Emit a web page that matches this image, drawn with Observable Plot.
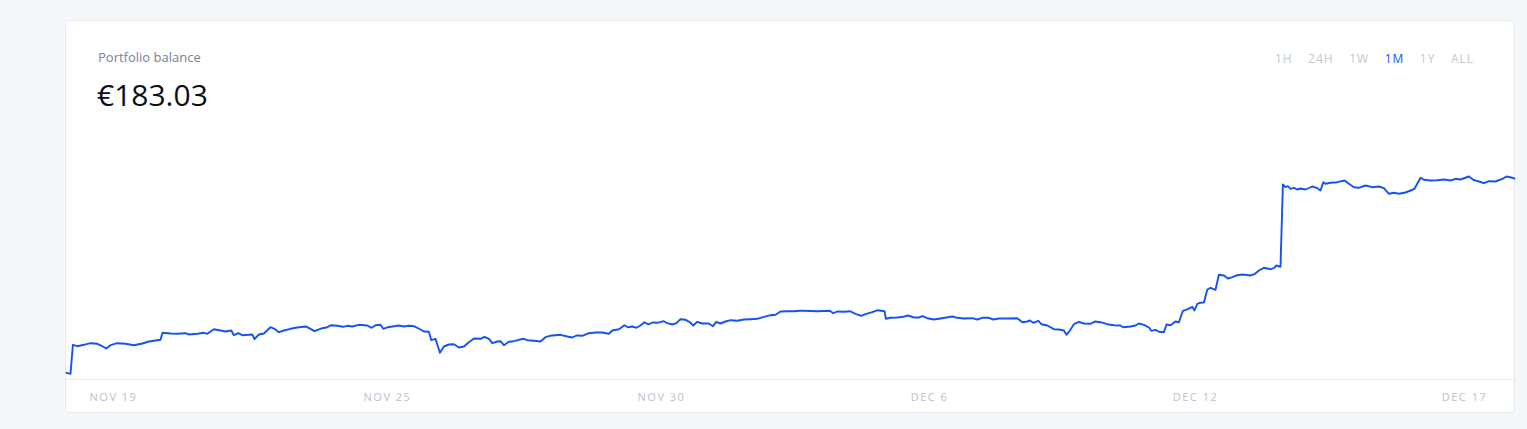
<!DOCTYPE html>
<html>
<head>
<meta charset="utf-8">
<script src="https://cdn.jsdelivr.net/npm/d3@7"></script>
<script src="https://cdn.jsdelivr.net/npm/@observablehq/plot@0.6"></script>
<style>
  html, body { margin: 0; padding: 0; width: 1527px; height: 429px; overflow: hidden; background: #f5f8fb; font-family: "Open Sans", sans-serif; }
  #card { position: absolute; left: 65px; top: 20px; width: 1450px; height: 393px; box-sizing: border-box; background: #fff; border: 1px solid #e7ebef; border-radius: 4px; }
  #title { position: absolute; left: 32px; top: 30px; font-size: 13px; line-height: 1; color: #76839a; white-space: nowrap; }
  #value { position: absolute; left: 31px; top: 59px; font-size: 30px; line-height: 1; color: #0a0f17; white-space: nowrap; }
  #ranges { position: absolute; right: 40px; top: 32px; display: flex; gap: 15.5px; font-size: 12px; line-height: 1; letter-spacing: 1px; color: #c3c8d0; }
  #ranges .on { color: #1652f0; }
  #chart { position: absolute; left: 66px; top: 130px; }
  #chart svg text { letter-spacing: 1.5px; }
</style>
</head>
<body>
<div id="card">
  <div id="title">Portfolio balance</div>
  <div id="value">€183.03</div>
  <div id="ranges"></div>
</div>
<div id="chart"></div>
<script>
const rangeLabels = ["1H", "24H", "1W", "1M", "1Y", "ALL"];
const activeRange = "1M";

const tickHours = [23.5, 160.5, 297.5, 431.5, 564.5, 699];
const tickLabels = ["NOV 19", "NOV 25", "NOV 30", "DEC 6", "DEC 12", "DEC 17"];

const hours = [
  0, 2, 3.2, 5.4, 8.7, 12, 15.4, 17.9, 19.9, 22, 25.4, 29.5, 33.7, 37.9, 41.2, 44.5, 47, 48, 52, 55.4,
  59.5, 61.2, 65.4, 68.7, 70.4, 73.7, 77, 79.5, 82.4, 83.7, 85.9, 87.9, 91.2, 92.9, 94, 96.2, 98.7, 102, 104, 106.2,
  108.7, 112, 115.4, 119.5, 120.4, 124, 127.9, 130.4, 132.4, 135.4, 138.4, 140.4, 142.9, 146.2, 150.4, 152.5, 154.5, 157, 158.4, 160.7,
  163.7, 166.2, 168.7, 171.2, 173.7, 177, 178.7, 181.2, 182.4, 184.5, 186.7, 188.7, 191.2, 193.7, 196.2, 198.7, 201.2, 203.7, 207, 209,
  211.2, 212.9, 215.4, 217, 218.7, 221.2, 223.7, 226.2, 228.7, 230.4, 233.7, 237, 239.5, 241.7, 247, 250.4, 252.9, 255, 257.9, 261.2,
  264.5, 267.9, 271.2, 272.9, 276.2, 279, 280.7, 282.9, 285, 287, 289, 290.9, 292.9, 295.4, 298.7, 300.4, 302.9, 305, 307, 309.5,
  311.7, 313.4, 315.4, 317.9, 321.2, 323.2, 324.9, 327, 329.5, 332, 335.4, 338.7, 342, 345.4, 348.7, 352, 354.5, 357, 360.4, 363.7,
  366.7, 368.7, 375.4, 381.7, 383.4, 385.4, 388.7, 391.7, 394.5, 397.4, 399.5, 402.9, 405.7, 409, 409.7, 412, 415.4, 418.4, 420.7, 423.7,
  426.2, 427.9, 430.4, 433.7, 437.9, 442.9, 445.4, 448.7, 452.9, 455.4, 457.9, 461.2, 463.4, 466.2, 470.4, 475.4, 477.9, 480.4, 481.7, 483.4,
  485.9, 487.4, 490.4, 493.7, 496.2, 498.7, 500, 501.7, 503.7, 506.2, 508.7, 512, 514.2, 517, 520.4, 523.7, 527, 528.4, 532, 534.5,
  536.2, 538.7, 541.2, 542.4, 544.5, 546.2, 548.7, 550, 552, 554.5, 556.2, 558.2, 560.7, 562.9, 564, 565.4, 566.7, 568.7, 570.4, 572,
  574.5, 576.2, 578.7, 580.7, 582.9, 585.4, 587.9, 592, 594, 596.2, 598.7, 602, 603.7, 605, 607, 608.2, 609.5, 610.7, 612, 613.7,
  615.4, 617, 619.5, 622.9, 625.4, 627, 628.4, 629.5, 632, 635.4, 639, 641.2, 643.7, 646.2, 649.5, 652.9, 656.2, 658.7, 661.2, 663.7,
  666.2, 669.5, 672, 674, 677, 678.7, 682, 685.4, 688.7, 692, 694.5, 697, 701.2, 703.7, 706.2, 708.7, 711.2, 714.5, 717.9, 720,
  722.9, 724
];

const balance = [
  85.88, 85.38, 99.88, 99.18, 99.88, 100.68, 100.38, 99.18, 98.03, 99.68, 100.68, 100.38, 99.68, 100.53, 101.53, 102.03, 102.38, 105.88, 105.53, 105.38,
  105.68, 105.03, 105.38, 105.88, 105.38, 107.68, 107.03, 106.53, 107.03, 104.68, 105.68, 104.68, 104.88, 105.03, 102.68, 105.03, 105.53, 108.68, 107.88, 106.18,
  107.03, 107.88, 108.53, 109.03, 108.68, 106.68, 108.18, 108.68, 109.68, 109.38, 108.88, 109.38, 109.03, 109.88, 109.53, 108.38, 109.68, 109.88, 107.88, 108.68,
  109.18, 109.53, 109.03, 109.38, 109.18, 107.53, 106.53, 106.38, 102.18, 102.88, 95.88, 99.03, 100.03, 100.18, 98.53, 99.03, 101.18, 103.03, 102.88, 103.88,
  102.88, 100.68, 101.53, 101.68, 99.68, 101.38, 101.68, 102.38, 102.88, 102.18, 101.88, 101.53, 103.68, 104.38, 104.88, 104.03, 103.53, 104.53, 104.38, 105.68,
  106.03, 106.03, 105.38, 107.03, 107.68, 109.68, 108.68, 109.03, 108.38, 109.53, 111.18, 110.03, 111.03, 110.88, 111.68, 110.68, 110.03, 110.68, 112.68, 112.38,
  111.18, 109.53, 111.38, 110.53, 110.53, 109.18, 111.38, 110.53, 111.53, 112.18, 111.88, 112.53, 112.68, 112.88, 113.88, 114.68, 114.88, 116.53, 116.68, 116.68,
  116.88, 116.88, 116.68, 116.88, 115.68, 116.53, 116.38, 116.68, 115.38, 114.38, 115.18, 116.18, 117.18, 116.68, 112.88, 113.38, 113.53, 113.88, 114.53, 113.53,
  113.53, 114.18, 113.18, 112.53, 113.18, 114.03, 113.38, 113.03, 113.18, 112.53, 113.38, 113.38, 112.53, 113.03, 113.03, 113.18, 111.18, 111.53, 112.03, 110.88,
  111.88, 110.18, 109.53, 107.68, 107.53, 107.03, 104.88, 107.03, 110.18, 111.38, 110.53, 110.38, 111.53, 111.18, 110.18, 109.68, 109.53, 108.68, 109.03, 109.53,
  110.53, 109.88, 108.53, 106.88, 107.38, 106.38, 106.18, 110.03, 109.68, 111.53, 111.18, 116.88, 117.68, 118.88, 117.03, 120.38, 120.88, 121.03, 127.53, 128.38,
  127.38, 134.88, 134.53, 133.03, 133.68, 134.68, 135.03, 134.53, 135.18, 137.03, 138.38, 137.68, 138.18, 139.53, 138.88, 180.03, 178.68, 179.18, 177.88, 178.38,
  177.53, 178.03, 177.53, 179.03, 178.18, 177.03, 181.18, 180.38, 180.88, 181.18, 182.03, 180.38, 178.68, 178.38, 179.53, 178.68, 179.03, 178.18, 175.38, 175.88,
  175.38, 176.03, 177.03, 177.88, 183.38, 182.38, 182.03, 182.18, 182.53, 182.03, 182.88, 182.53, 184.03, 182.18, 181.53, 180.68, 181.68, 181.53, 182.88, 184.03,
  183.38, 183.03
];

const ranges = document.getElementById("ranges");
for (const r of rangeLabels) {
  const s = document.createElement("span");
  s.textContent = r;
  if (r === activeRange) s.className = "on";
  ranges.appendChild(s);
}

const data = hours.map((h, i) => ({h, v: balance[i]}));
const yMin = 82.53, yMax = 207.03;

const chart = Plot.plot({
  width: 1448,
  height: 282,
  marginTop: 0,
  marginBottom: 33,
  marginLeft: 0,
  marginRight: 0,
  style: {fontFamily: "Open Sans", background: "transparent", overflow: "visible"},
  x: {domain: [0, 724], label: null},
  y: {domain: [yMin, yMax], axis: null},
  marks: [
    Plot.ruleY([yMin], {stroke: "#e6e9ed", strokeWidth: 1}),
    Plot.axisX({
      ticks: tickHours,
      tickFormat: d => tickLabels[tickHours.indexOf(d)],
      tickSize: 0,
      tickPadding: 14,
      fontSize: 11,
      label: null,
      color: "#bcc1ca"
    }),
    Plot.lineY(data, {x: "h", y: "v", stroke: "#1652f0", strokeWidth: 1.9})
  ]
});
document.getElementById("chart").appendChild(chart);
</script>
</body>
</html>
